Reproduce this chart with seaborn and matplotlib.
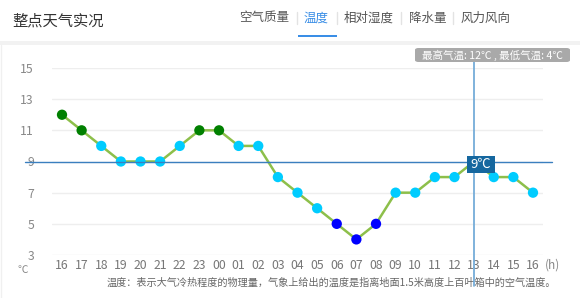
import matplotlib
matplotlib.use("Agg")
import matplotlib.pyplot as plt
from matplotlib.patches import FancyBboxPatch, Rectangle
from matplotlib.lines import Line2D
import pandas as pd
import seaborn as sns

hours = ["16", "17", "18", "19", "20", "21", "22", "23", "00", "01", "02", "03",
         "04", "05", "06", "07", "08", "09", "10", "11", "12", "13", "14", "15", "16"]
temps = [12, 11, 10, 9, 9, 9, 10, 11, 11, 10, 10, 8,
         7, 6, 5, 4, 5, 7, 7, 8, 8, 9, 8, 8, 7]
y_ticks = [3, 5, 7, 9, 11, 13, 15]
tabs = ["空气质量", "温度", "相对湿度", "降水量", "风力风向"]
active_tab = "温度"
hover_idx = 21
max_t, min_t = 12, 4


def level(t):
    if t >= 11:
        return "warm"
    if t <= 5:
        return "cold"
    return "mild"


df = pd.DataFrame({"x": range(len(hours)), "hour": hours, "temp": temps})
df["level"] = df["temp"].apply(level)
palette = {"warm": "#008000", "mild": "#00ccff", "cold": "#0000ff"}

sns.set_style("white")
plt.rcParams["font.family"] = ["Noto Sans CJK SC", "DejaVu Sans"]

W, H = 580, 298
fig = plt.figure(figsize=(W / 100, H / 100), dpi=100)


def fx(x):
    return x / W


def fy(y):
    return 1 - y / H


ax = fig.add_axes([fx(52), fy(255), fx(543) - fx(52), fy(68) - fy(255)])

for t in y_ticks:
    ax.axhline(t, color="#eeeeee", lw=1, zorder=0)

sns.lineplot(data=df, x="x", y="temp", color="#8dbf4a", lw=1.8, ax=ax, zorder=2)
sns.scatterplot(data=df[df.x != hover_idx], x="x", y="temp", hue="level",
                palette=palette, s=55, edgecolor="none", legend=False,
                ax=ax, zorder=3, clip_on=False)

ax.set_xlim(-0.51, len(hours) - 1 + 0.51)
ax.set_ylim(3, 15)
ax.set_xticks(df["x"])
ax.set_xticklabels(hours)
ax.set_yticks(y_ticks)
ax.tick_params(axis="x", length=0, pad=3, labelsize=8.8, labelcolor="#777777")
ax.tick_params(axis="y", length=0, pad=13, labelsize=8.8, labelcolor="#888888")
ax.set_xlabel("")
ax.set_ylabel("")
sns.despine(ax=ax, left=True, bottom=True)

# crosshair
hx = fx(62 + hover_idx * 19.625)
fig.add_artist(Line2D([fx(25), fx(552)], [fy(162), fy(162)], color="#3a7fbf", lw=1, zorder=5))
fig.add_artist(Line2D([hx, hx], [fy(61), fy(286)], color="#6aa6d6", lw=1.2, zorder=5))

# header
fig.text(fx(12), fy(21), "整点天气实况", fontsize=11, color="#333333", va="center")
tab_x = [264.5, 316.5, 369, 427.5, 486]
sep_x = [297, 336.5, 401, 453]
for name, x in zip(tabs, tab_x):
    c = "#3a8ee6" if name == active_tab else "#555555"
    fig.text(fx(x), fy(18), name, fontsize=9, color=c, ha="center", va="center")
for x in sep_x:
    fig.add_artist(Line2D([fx(x), fx(x)], [fy(12), fy(24)], color="#e3e3e3", lw=1))
fig.add_artist(Rectangle((fx(298), fy(37)), fx(39), fy(35) - fy(37), color="#3a8ee6", lw=0))
fig.add_artist(Rectangle((0, fy(45)), 1, fy(41) - fy(45), color="#f2f2f2", lw=0))
fig.add_artist(Line2D([fx(1), fx(1)], [0, fy(45)], color="#f0f0f0", lw=1))

# tooltips
fig.add_artist(FancyBboxPatch((fx(415), fy(62)), fx(155), fy(48) - fy(62),
                              boxstyle="round,pad=0,rounding_size=0.006",
                              fc="#a9a9a9", ec="none", zorder=6))
fig.text(fx(492), fy(55), f"最高气温: {max_t}℃ , 最低气温: {min_t}℃",
         fontsize=7.6, color="white", ha="center", va="center", zorder=7)
fig.add_artist(Rectangle((fx(467), fy(173)), fx(28), fy(156) - fy(173),
                         fc="#15679f", ec="none", zorder=6))
fig.text(fx(481), fy(164.5), f"{temps[hover_idx]}℃", fontsize=9.5, color="white",
         ha="center", va="center", zorder=7)

# axis units and footer
fig.text(fx(23), fy(270), "℃", fontsize=7.5, color="#888888", ha="center", va="center")
fig.text(fx(553), fy(265), "(h)", fontsize=8.5, color="#888888", ha="center", va="center")
fig.text(fx(107), fy(283), "温度：表示大气冷热程度的物理量，气象上给出的温度是指离地面1.5米高度上百叶箱中的空气温度。",
         fontsize=7.3, color="#666666", ha="left", va="center")

fig.savefig("out.png", dpi=100)
